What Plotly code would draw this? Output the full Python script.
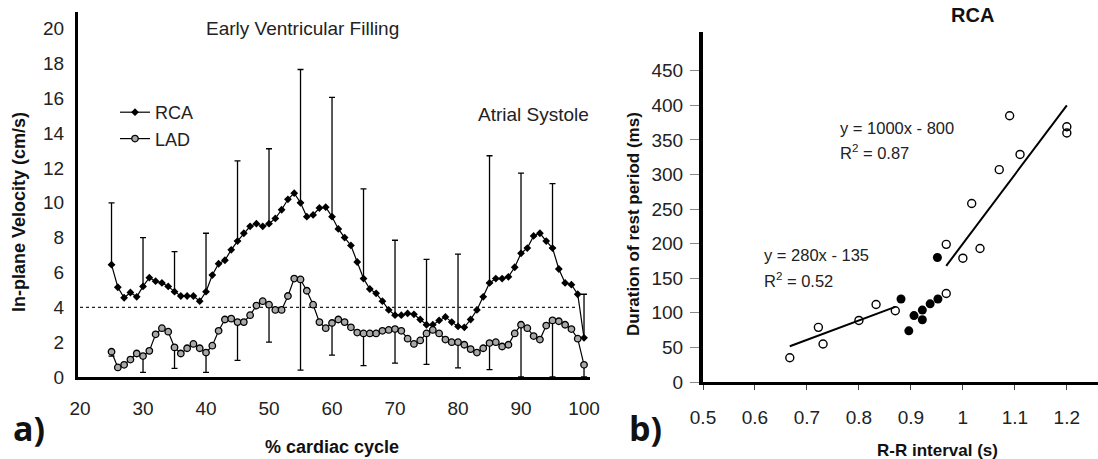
import plotly.graph_objects as go

# ---------------- Panel a) data ----------------
cycle_pct = list(range(25, 101))
rca_velocity = [6.45, 5.15, 4.55, 4.85, 4.6, 5.2, 5.7, 5.5, 5.4, 5.2,
                4.9, 4.65, 4.65, 4.65, 4.35, 4.9, 5.85, 6.5, 6.7, 7.3,
                7.8, 8.25, 8.65, 8.8, 8.65, 8.8, 9.1, 9.6, 10.2, 10.55,
                10.0, 9.2, 9.3, 9.7, 9.75, 9.2, 8.5, 8.0, 7.55, 6.6,
                5.65, 5.05, 4.8, 4.35, 3.85, 3.55, 3.55, 3.65, 3.6, 3.3,
                3.0, 3.0, 3.25, 3.45, 3.15, 2.9, 2.85, 3.3, 3.85, 4.6,
                5.4, 5.65, 5.65, 5.75, 6.3, 7.1, 7.4, 8.1, 8.25, 7.8,
                7.4, 6.2, 5.4, 5.3, 4.75, 2.25]
lad_velocity = [1.45, 0.55, 0.7, 1.0, 1.35, 1.2, 1.5, 2.45, 2.8, 2.6,
                1.7, 1.35, 1.65, 1.9, 1.65, 1.4, 1.8, 2.65, 3.3, 3.35,
                3.15, 3.15, 3.55, 4.1, 4.35, 4.15, 3.85, 3.85, 4.65, 5.65,
                5.6, 4.95, 4.15, 3.15, 2.8, 3.1, 3.3, 3.15, 2.85, 2.55,
                2.5, 2.5, 2.5, 2.65, 2.7, 2.75, 2.65, 2.2, 1.9, 2.1,
                2.5, 2.7, 2.5, 2.15, 2.0, 2.0, 1.85, 1.6, 1.4, 1.65,
                1.95, 2.0, 1.75, 1.85, 2.5, 3.0, 2.8, 2.35, 2.15, 2.95,
                3.25, 3.2, 3.0, 2.75, 2.2, 0.7]
err_pct = list(range(25, 101, 5))
rca_err_top = [10.0, 8.0, 7.2, 8.25, 12.4, 13.1, 17.65, 16.05, 10.8, 7.85,
               6.75, 7.05, 12.7, 11.7, 11.1, 4.75]
lad_err_bottom = [1.2, 0.27, 0.5, 0.27, 0.95, 2.0, 0.4, 1.25, 0.65, 0.8,
                  0.72, 0.52, 0.42, 0.0, 0.0, 0.0]
threshold_velocity = 4.0
x_ticks_a = [20, 30, 40, 50, 60, 70, 80, 90, 100]
y_ticks_a = [0, 2, 4, 6, 8, 10, 12, 14, 16, 18, 20]

# ---------------- Panel b) data ----------------
rr_open = [0.667, 0.722, 0.731, 0.80, 0.833, 0.87, 0.968, 1.0, 1.033, 0.968,
           1.017, 1.07, 1.09, 1.11, 1.2, 1.2]
rest_open = [35, 79, 55, 89, 112, 103, 199, 179, 193, 128,
             258, 307, 385, 329, 369, 360]
rr_filled = [0.951, 0.881, 0.896, 0.906, 0.922, 0.922, 0.937, 0.952]
rest_filled = [180, 120, 74, 96, 104, 90, 113, 120]
fit_low = dict(slope=280, intercept=-135, x0=0.667, x1=0.87)
fit_high = dict(slope=1000, intercept=-800, x0=0.968, x1=1.2)
x_ticks_b = [0.5, 0.6, 0.7, 0.8, 0.9, 1.0, 1.1, 1.2]
x_ticklabels_b = ["0.5", "0.6", "0.7", "0.8", "0.9", "1", "1.1", "1.2"]
y_ticks_b = [0, 50, 100, 150, 200, 250, 300, 350, 400, 450]

W, H = 1098, 459
FONT = "Liberation Sans, Arial, sans-serif"


def px_x(p):
    return p / W


def px_y(p):
    return 1 - p / H


fig = go.Figure()

rca_at_err = [rca_velocity[cycle_pct.index(p)] for p in err_pct]
lad_at_err = [lad_velocity[cycle_pct.index(p)] for p in err_pct]

# error bars (RCA up, LAD down)
fig.add_trace(go.Scatter(
    x=err_pct, y=rca_at_err, mode="markers", marker=dict(opacity=0, size=1),
    showlegend=False, hoverinfo="skip",
    error_y=dict(type="data", symmetric=False,
                 array=[t - v for t, v in zip(rca_err_top, rca_at_err)],
                 arrayminus=[0] * len(err_pct),
                 color="black", thickness=1.3, width=3),
    xaxis="x", yaxis="y"))
fig.add_trace(go.Scatter(
    x=err_pct, y=lad_at_err, mode="markers", marker=dict(opacity=0, size=1),
    showlegend=False, hoverinfo="skip",
    error_y=dict(type="data", symmetric=False,
                 array=[0] * len(err_pct),
                 arrayminus=[v - b for v, b in zip(lad_at_err, lad_err_bottom)],
                 color="black", thickness=1.3, width=3),
    xaxis="x", yaxis="y"))

# threshold dotted line
fig.add_trace(go.Scatter(
    x=[20, 99], y=[threshold_velocity, threshold_velocity], mode="lines",
    line=dict(color="#222", width=1.2, dash="dot"),
    showlegend=False, hoverinfo="skip", xaxis="x", yaxis="y"))

fig.add_trace(go.Scatter(
    x=cycle_pct, y=rca_velocity, mode="lines+markers", name="RCA",
    line=dict(color="black", width=1.2),
    marker=dict(symbol="diamond", size=6, color="black"),
    xaxis="x", yaxis="y"))
fig.add_trace(go.Scatter(
    x=cycle_pct, y=lad_velocity, mode="lines+markers", name="LAD",
    line=dict(color="black", width=1.2),
    marker=dict(symbol="circle", size=6.5, color="#a8a8a8",
                line=dict(color="black", width=1.3)),
    xaxis="x", yaxis="y"))

# panel b scatter
fig.add_trace(go.Scatter(
    x=rr_open, y=rest_open, mode="markers", showlegend=False,
    marker=dict(symbol="circle-open", size=8, color="black",
                line=dict(width=1.4)),
    xaxis="x2", yaxis="y2"))
fig.add_trace(go.Scatter(
    x=rr_filled, y=rest_filled, mode="markers", showlegend=False,
    marker=dict(symbol="circle", size=9, color="black"),
    xaxis="x2", yaxis="y2"))
for f in (fit_low, fit_high):
    xs = [f["x0"], f["x1"]]
    fig.add_trace(go.Scatter(
        x=xs, y=[f["slope"] * v + f["intercept"] for v in xs], mode="lines",
        line=dict(color="black", width=2), showlegend=False, hoverinfo="skip",
        xaxis="x2", yaxis="y2"))

tickfont = dict(family=FONT, size=19, color="#222")

fig.update_layout(
    template="none",
    width=W, height=H, margin=dict(l=0, r=0, t=0, b=0, autoexpand=False),
    paper_bgcolor="white", plot_bgcolor="white",
    font=dict(family=FONT, color="#222"),
    showlegend=True,
    legend=dict(x=px_x(115), y=px_y(94), xanchor="left", yanchor="top",
                bgcolor="rgba(0,0,0,0)", font=dict(family=FONT, size=18, color="#222"),
                itemwidth=30, tracegroupgap=0),
    xaxis=dict(domain=[px_x(78), px_x(590)], range=[19.68, 100.95],
               tickvals=x_ticks_a, ticks="", showgrid=False, zeroline=False,
               showline=True, linecolor="black", linewidth=3, automargin=False,
               tickfont=tickfont, ticklabelstandoff=12, anchor="y"),
    yaxis=dict(domain=[px_y(377), px_y(12)], range=[0, 20.95],
               tickvals=y_ticks_a, ticks="", showgrid=False, zeroline=False,
               showline=True, linecolor="black", linewidth=3, automargin=False,
               tickfont=tickfont, ticklabelstandoff=7, anchor="x"),
    xaxis2=dict(domain=[px_x(703), 1.0], range=[0.5, 1.26],
                tickvals=x_ticks_b, ticktext=x_ticklabels_b,
                ticks="outside", ticklen=5, tickwidth=1, tickcolor="#444",
                showgrid=False, zeroline=False, automargin=False,
                showline=True, linecolor="black", linewidth=3,
                tickfont=tickfont, ticklabelstandoff=11, anchor="y2"),
    yaxis2=dict(domain=[px_y(382), px_y(32)], range=[0, 506],
                tickvals=y_ticks_b, ticks="outside", ticklen=9, tickwidth=1,
                tickcolor="#888", automargin=False,
                showgrid=False, zeroline=False,
                showline=True, linecolor="black", linewidth=4,
                tickfont=tickfont, ticklabelstandoff=3, anchor="x2"),
)


def ann(text, x, y, size, bold=False, xanchor="center", angle=0, fam=FONT):
    fig.add_annotation(
        text=f"<b>{text}</b>" if bold else text,
        x=px_x(x), y=px_y(y), xref="paper", yref="paper",
        xanchor=xanchor, yanchor="middle", showarrow=False, textangle=angle,
        font=dict(family=fam, size=size, color="#111" if bold else "#222"))


ann("Early Ventricular Filling", 303, 28, 19)
ann("Atrial Systole", 533, 114, 19)
ann("In-plane Velocity (cm/s)", 19, 212, 18, bold=True, angle=-90)
ann("% cardiac cycle", 332, 447, 18, bold=True)
ann("a)", 29, 428, 34, bold=True, fam="Open Sans, sans-serif")
ann("b)", 645, 428, 34, bold=True, fam="Open Sans, sans-serif")
ann("RCA", 972, 15, 20, bold=True)
ann("Duration of rest period (ms)", 633, 224, 17, bold=True, angle=-90)
ann("R-R interval (s)", 937, 450, 17, bold=True)
ann("y = 1000x - 800", 838, 128, 16.5, xanchor="left")
ann("R<sup>2</sup> = 0.87", 838, 152, 16.5, xanchor="left")
ann("y = 280x - 135", 762, 255, 16.5, xanchor="left")
ann("R<sup>2</sup> = 0.52", 762, 280, 16.5, xanchor="left")

fig.write_html(
    "out.html",
    config={"displayModeBar": False},
    post_script="document.body.style.margin='0';document.body.style.overflow='hidden';",
)
